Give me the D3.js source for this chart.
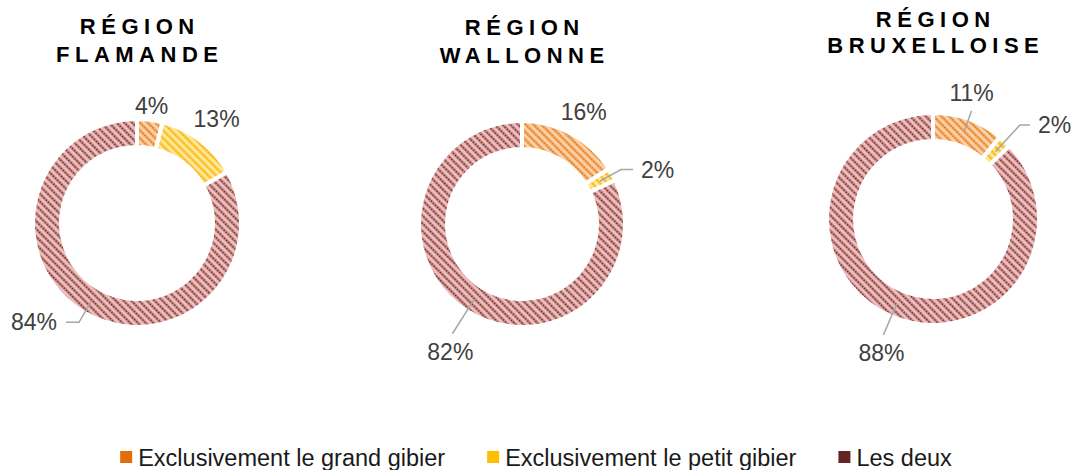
<!DOCTYPE html>
<html>
<head>
<meta charset="utf-8">
<script src="https://cdn.jsdelivr.net/npm/d3@7"></script>
<style>
  html, body { margin: 0; padding: 0; background: #fff; }
  svg { display: block; font-family: "Liberation Sans", Arial, sans-serif; }
</style>
</head>
<body>
<div id="canvas"></div>
<script>
// data
var regions = [["RÉGION", "FLAMANDE"], ["RÉGION", "WALLONNE"], ["RÉGION", "BRUXELLOISE"]];
var categories = ["Exclusivement le grand gibier", "Exclusivement le petit gibier", "Les deux"];
var grandGibier = [4, 16, 11];
var petitGibier = [13, 2, 2];
var lesDeux = [84, 82, 88];

// look
var legendColours = ["#e46c0a", "#ffc000", "#632523"];
var patternColours = [
  { bg: "#fad3ae", mid: "#f5ad68", dark: "#e06f0c" },
  { bg: "#ffe8a0", mid: "#ffd04a", dark: "#f5ab00" },
  { bg: "#ecc2c1", mid: "#cc8f8d", dark: "#6a1c1c" }
];

var w = 1072, h = 470;
var svg = d3.select("#canvas").append("svg").attr("width", w).attr("height", h);

// where each donut sits
var donuts = [
  { cx: 137, cy: 223, r: 104, titleY: [34, 62] },
  { cx: 522, cy: 224, r: 103, titleY: [35, 63] },
  { cx: 933, cy: 219, r: 106, titleY: [27, 53] }
];
var thickness = 28;

// how each percentage label is placed
var labelLayout = [
  [{ type: "plain", r: 118 }, { type: "plain", r: 131 }, { type: "left", elbow: 115, tick: 13 }],
  [{ type: "plain", r: 128 }, { type: "right", elbow: 113, tick: 12 }, { type: "below", elbow: 130 }],
  [{ type: "above", elbow: 115 }, { type: "right", elbow: 128, tick: 10 }, { type: "below", elbow: 126 }]
];

// hatch patterns
var pw = 5.5;
var defs = svg.append("defs");
patternColours.forEach(function(c, i) {
  var p = defs.append("pattern")
      .attr("id", "hatch" + i)
      .attr("patternUnits", "userSpaceOnUse")
      .attr("width", pw)
      .attr("height", 6)
      .attr("patternTransform", "rotate(-45)");
  p.append("rect").attr("width", pw).attr("height", 6).style("fill", c.bg);
  p.append("rect").attr("width", 3).attr("height", 6).style("fill", c.mid);
  p.append("line")
      .attr("x1", 1.5).attr("x2", 1.5).attr("y1", 0).attr("y2", 6)
      .style("stroke", c.dark)
      .style("stroke-width", 1.5)
      .style("stroke-dasharray", "1.5,1.5");
});

var pie = d3.pie().sort(null).value(function(d) { return d.v; });

function pt(angle, radius) {
  return [radius * Math.sin(angle), -radius * Math.cos(angle)];
}

donuts.forEach(function(dn, k) {
  var values = [grandGibier[k], petitGibier[k], lesDeux[k]];
  var slices = pie(values.map(function(v, i) { return { v: v, i: i }; }));
  var arc = d3.arc().innerRadius(dn.r - thickness).outerRadius(dn.r);

  var g = svg.append("g").attr("transform", "translate(" + dn.cx + "," + dn.cy + ")");

  g.selectAll("path")
    .data(slices)
    .enter().append("path")
      .attr("d", arc)
      .style("fill", function(d) { return "url(#hatch" + d.data.i + ")"; })
      .style("stroke", "#fff")
      .style("stroke-width", 4);

  // labels
  slices.forEach(function(d, i) {
    var lay = labelLayout[k][i];
    var mid = (d.startAngle + d.endAngle) / 2;
    var txt = values[i] + "%";
    var label = g.append("text")
        .style("font-size", "23px")
        .style("fill", "#404040")
        .text(txt);

    if (lay.type == "plain") {
      var p = pt(mid, lay.r);
      label.attr("x", p[0]).attr("y", p[1] + 8).attr("text-anchor", "middle");
      return;
    }

    var s = pt(mid, dn.r - thickness / 2);
    var e = pt(mid, lay.elbow);
    var line = [s, e];
    if (lay.type == "left") {
      line.push([e[0] - lay.tick, e[1]]);
      label.attr("x", e[0] - lay.tick - 9).attr("y", e[1] + 8).attr("text-anchor", "end");
    } else if (lay.type == "right") {
      line.push([e[0] + lay.tick, e[1]]);
      label.attr("x", e[0] + lay.tick + 8).attr("y", e[1] + 8).attr("text-anchor", "start");
    } else if (lay.type == "below") {
      label.attr("x", e[0] - 2).attr("y", e[1] + 26).attr("text-anchor", "middle");
    } else {
      label.attr("x", e[0]).attr("y", e[1] - 10).attr("text-anchor", "middle");
    }
    g.append("path")
      .attr("d", d3.line()(line))
      .style("fill", "none")
      .style("stroke", "#a6a6a6")
      .style("stroke-width", 1.5);
  });

  // title
  regions[k].forEach(function(t, j) {
    svg.append("text")
      .attr("x", dn.cx + 2.75)
      .attr("y", dn.titleY[j])
      .attr("text-anchor", "middle")
      .style("font-size", "22px")
      .style("font-weight", "bold")
      .style("letter-spacing", "5.5px")
      .style("fill", "#000")
      .text(t);
  });
});

// legend
var legend = svg.append("g");
var items = legend.selectAll("g")
  .data(categories)
  .enter().append("g");
items.append("rect")
  .attr("y", 451)
  .attr("width", 12)
  .attr("height", 12)
  .style("fill", function(d, i) { return legendColours[i]; });
items.append("text")
  .attr("x", 18)
  .attr("y", 466)
  .style("font-size", "23.5px")
  .style("fill", "#1a1a1a")
  .text(function(d) { return d; });

var gap = 42;
var xpos = 0;
items.each(function() {
  var tw = d3.select(this).select("text").node().getComputedTextLength();
  d3.select(this).attr("transform", "translate(" + xpos + ",0)");
  xpos += 18 + tw + gap;
});
var total = xpos - gap;
legend.attr("transform", "translate(" + (536 - total / 2) + ",0)");
</script>
</body>
</html>
